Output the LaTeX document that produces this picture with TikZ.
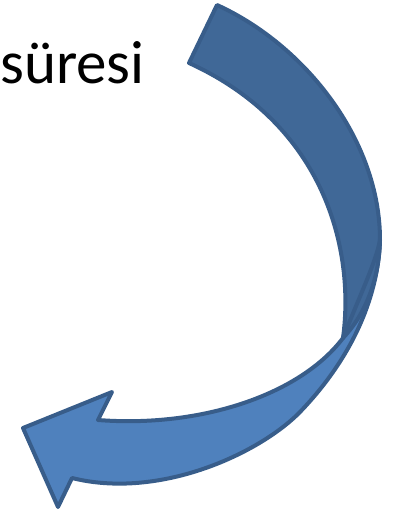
\documentclass[tikz,border=0pt]{standalone}
\usepackage{fontspec}
\setmainfont{Carlito}
\usepackage{xcolor}
\usepackage{tikz}
\usetikzlibrary{calc}
\definecolor{arrowFront}{RGB}{79,129,189}
\definecolor{arrowBack}{RGB}{64,104,151}
\definecolor{arrowEdge}{RGB}{56,93,138}

\begin{document}
\begin{tikzpicture}[x=1pt, y=-1pt, line cap=round, line join=round,
    band/.style={draw=arrowEdge, line width=4pt}]

% ---------------------------------------------------------
% Frame (pixel units, y downwards)
% ---------------------------------------------------------
\useasboundingbox (0,0) rectangle (392,512);

% ---------------------------------------------------------
% Key points
% ---------------------------------------------------------
\coordinate (Ttop) at (217,5);     % top end, outer corner
\coordinate (Tbot) at (189,63);    % top end, inner corner
\coordinate (R)    at (380,240);   % rightmost point of outer edge
\coordinate (X)    at (343,338);   % twist crossing
\coordinate (M)    at (300,412);   % lower edge, mid point
\coordinate (Nu)   at (98,420);    % upper notch of head
\coordinate (Bu)   at (112,392);   % upper barb
\coordinate (Tip)  at (23,428);    % head tip
\coordinate (Bl)   at (58,507);    % lower barb
\coordinate (Nl)   at (72,478);    % lower notch of head

% ---------------------------------------------------------
% Text
% ---------------------------------------------------------
\node[anchor=base west, inner sep=0pt,
      font=\fontsize{61}{61}\selectfont] (word) at (0,83) {süresi};

% ---------------------------------------------------------
% Front face with head
% ---------------------------------------------------------
\path[band, fill=arrowFront]
    (Nu) .. controls (200,428) and (300,395) .. (X)
         .. controls (360,295) and (376,262) .. (R)
         .. controls (378,300) and (350,360) .. (M)
         .. controls (260,453) and (160,500) .. (Nl)
         -- (Bl) -- (Tip) -- (Bu) -- cycle;

% ---------------------------------------------------------
% Back face (darker)
% ---------------------------------------------------------
\path[band, fill=arrowBack]
    (Ttop) .. controls (305,45) and (380,140) .. (R)
           .. controls (379,285) and (362,318) .. (X)
           .. controls (355,250) and (325,125) .. (Tbot) -- cycle;

% twist edge
\draw[band] (X) .. controls (360,295) and (376,262) .. (R);

\end{tikzpicture}
\end{document}
